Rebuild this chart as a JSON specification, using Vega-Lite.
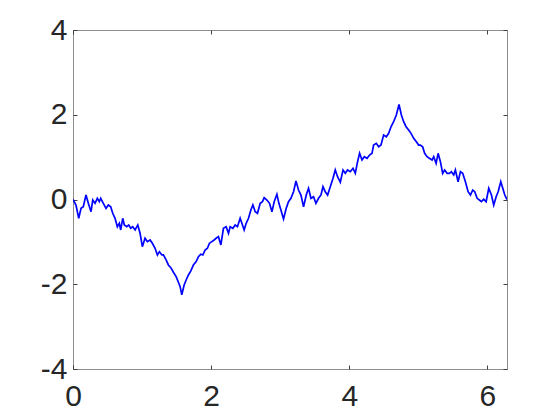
{
  "$schema": "https://vega.github.io/schema/vega-lite/v6.json",
  "autosize": "none",
  "width": 434,
  "height": 339,
  "padding": {"left": 73, "top": 30, "right": 53, "bottom": 51},
  "background": "white",
  "config": {
    "view": {"stroke": "#8c8c8c", "strokeWidth": 1},
    "axis": {
      "grid": false,
      "domain": false,
      "tickColor": "#404040",
      "tickSize": -4,
      "labelFont": "Liberation Sans",
      "labelFontSize": 30,
      "labelColor": "#262626",
      "title": null
    }
  },
  "data": {"values": [
    {"x": 0, "y": 0}, {"x": 0.043, "y": -0.13}, {"x": 0.083, "y": -0.443}, {"x": 0.116, "y": -0.208},
    {"x": 0.149, "y": -0.17}, {"x": 0.188, "y": 0.106}, {"x": 0.222, "y": -0.09}, {"x": 0.261, "y": -0.288},
    {"x": 0.286, "y": -0.012}, {"x": 0.319, "y": -0.09}, {"x": 0.352, "y": 0.028}, {"x": 0.381, "y": -0.052},
    {"x": 0.401, "y": 0.028}, {"x": 0.439, "y": -0.09}, {"x": 0.478, "y": -0.208}, {"x": 0.512, "y": -0.13},
    {"x": 0.546, "y": -0.17}, {"x": 0.575, "y": -0.325}, {"x": 0.609, "y": -0.443}, {"x": 0.642, "y": -0.642},
    {"x": 0.671, "y": -0.561}, {"x": 0.691, "y": -0.719}, {"x": 0.72, "y": -0.443}, {"x": 0.743, "y": -0.601},
    {"x": 0.778, "y": -0.642}, {"x": 0.807, "y": -0.601}, {"x": 0.836, "y": -0.679}, {"x": 0.865, "y": -0.642},
    {"x": 0.899, "y": -0.719}, {"x": 0.938, "y": -0.601}, {"x": 0.971, "y": -0.797}, {"x": 1.004, "y": -1.113},
    {"x": 1.043, "y": -0.915}, {"x": 1.077, "y": -0.995}, {"x": 1.116, "y": -0.955}, {"x": 1.149, "y": -1.033},
    {"x": 1.188, "y": -1.151}, {"x": 1.222, "y": -1.309}, {"x": 1.251, "y": -1.231}, {"x": 1.286, "y": -1.309},
    {"x": 1.309, "y": -1.309}, {"x": 1.348, "y": -1.427}, {"x": 1.381, "y": -1.545}, {"x": 1.416, "y": -1.608},
    {"x": 1.454, "y": -1.717}, {"x": 1.493, "y": -1.821}, {"x": 1.526, "y": -1.953}, {"x": 1.551, "y": -2.057},
    {"x": 1.575, "y": -2.252}, {"x": 1.609, "y": -2.017}, {"x": 1.638, "y": -1.899}, {"x": 1.671, "y": -1.781},
    {"x": 1.706, "y": -1.686}, {"x": 1.743, "y": -1.545}, {"x": 1.783, "y": -1.467}, {"x": 1.816, "y": -1.349},
    {"x": 1.851, "y": -1.292}, {"x": 1.88, "y": -1.309}, {"x": 1.913, "y": -1.191}, {"x": 1.946, "y": -1.151},
    {"x": 1.975, "y": -1.033}, {"x": 2.01, "y": -0.995}, {"x": 2.043, "y": -0.955}, {"x": 2.072, "y": -0.915},
    {"x": 2.106, "y": -0.877}, {"x": 2.141, "y": -1.073}, {"x": 2.178, "y": -0.679}, {"x": 2.217, "y": -0.642},
    {"x": 2.251, "y": -0.797}, {"x": 2.275, "y": -0.642}, {"x": 2.314, "y": -0.679}, {"x": 2.348, "y": -0.601},
    {"x": 2.381, "y": -0.642}, {"x": 2.42, "y": -0.443}, {"x": 2.445, "y": -0.561}, {"x": 2.478, "y": -0.719},
    {"x": 2.507, "y": -0.561}, {"x": 2.541, "y": -0.443}, {"x": 2.575, "y": -0.248}, {"x": 2.604, "y": -0.13},
    {"x": 2.638, "y": -0.288}, {"x": 2.671, "y": -0.325}, {"x": 2.71, "y": -0.09}, {"x": 2.743, "y": -0.052},
    {"x": 2.768, "y": 0.042}, {"x": 2.807, "y": -0.012}, {"x": 2.845, "y": -0.09}, {"x": 2.88, "y": -0.288},
    {"x": 2.913, "y": -0.052}, {"x": 2.952, "y": 0.123}, {"x": 2.981, "y": -0.09}, {"x": 3.01, "y": -0.248},
    {"x": 3.048, "y": -0.46}, {"x": 3.087, "y": -0.208}, {"x": 3.12, "y": -0.052}, {"x": 3.155, "y": 0.028},
    {"x": 3.193, "y": 0.184}, {"x": 3.228, "y": 0.436}, {"x": 3.265, "y": 0.224}, {"x": 3.3, "y": 0.106},
    {"x": 3.338, "y": -0.17}, {"x": 3.377, "y": 0.106}, {"x": 3.41, "y": 0.264}, {"x": 3.445, "y": 0.028},
    {"x": 3.483, "y": 0.066}, {"x": 3.517, "y": -0.09}, {"x": 3.555, "y": 0.028}, {"x": 3.59, "y": 0.106},
    {"x": 3.619, "y": 0.302}, {"x": 3.652, "y": 0.184}, {"x": 3.686, "y": 0.106}, {"x": 3.725, "y": 0.302},
    {"x": 3.764, "y": 0.5}, {"x": 3.797, "y": 0.696}, {"x": 3.83, "y": 0.538}, {"x": 3.87, "y": 0.406},
    {"x": 3.909, "y": 0.696}, {"x": 3.942, "y": 0.618}, {"x": 3.975, "y": 0.696}, {"x": 4.014, "y": 0.656},
    {"x": 4.054, "y": 0.736}, {"x": 4.087, "y": 0.618}, {"x": 4.12, "y": 0.892}, {"x": 4.149, "y": 1.09},
    {"x": 4.184, "y": 0.932}, {"x": 4.217, "y": 1.009}, {"x": 4.257, "y": 0.972}, {"x": 4.294, "y": 1.05},
    {"x": 4.329, "y": 1.09}, {"x": 4.352, "y": 1.285}, {"x": 4.391, "y": 1.325}, {"x": 4.425, "y": 1.245},
    {"x": 4.459, "y": 1.285}, {"x": 4.497, "y": 1.521}, {"x": 4.536, "y": 1.481}, {"x": 4.57, "y": 1.561},
    {"x": 4.604, "y": 1.717}, {"x": 4.642, "y": 1.835}, {"x": 4.681, "y": 1.993}, {"x": 4.72, "y": 2.241},
    {"x": 4.754, "y": 1.993}, {"x": 4.787, "y": 1.835}, {"x": 4.822, "y": 1.717}, {"x": 4.859, "y": 1.639},
    {"x": 4.894, "y": 1.561}, {"x": 4.932, "y": 1.443}, {"x": 4.971, "y": 1.363}, {"x": 5.004, "y": 1.285},
    {"x": 5.029, "y": 1.285}, {"x": 5.062, "y": 1.245}, {"x": 5.091, "y": 1.09}, {"x": 5.126, "y": 1.009},
    {"x": 5.159, "y": 0.972}, {"x": 5.199, "y": 0.932}, {"x": 5.222, "y": 1.009}, {"x": 5.257, "y": 0.854},
    {"x": 5.286, "y": 1.09}, {"x": 5.319, "y": 0.892}, {"x": 5.352, "y": 0.618}, {"x": 5.381, "y": 0.696},
    {"x": 5.416, "y": 0.618}, {"x": 5.449, "y": 0.618}, {"x": 5.478, "y": 0.656}, {"x": 5.512, "y": 0.578},
    {"x": 5.536, "y": 0.696}, {"x": 5.575, "y": 0.42}, {"x": 5.609, "y": 0.656}, {"x": 5.642, "y": 0.618},
    {"x": 5.681, "y": 0.42}, {"x": 5.72, "y": 0.184}, {"x": 5.754, "y": 0.106}, {"x": 5.787, "y": 0.224},
    {"x": 5.816, "y": 0.184}, {"x": 5.851, "y": 0.028}, {"x": 5.884, "y": -0.012}, {"x": 5.913, "y": -0.052},
    {"x": 5.946, "y": 0.005}, {"x": 5.981, "y": -0.052}, {"x": 6.019, "y": 0.264}, {"x": 6.058, "y": 0.106},
    {"x": 6.091, "y": -0.13}, {"x": 6.126, "y": 0.066}, {"x": 6.155, "y": 0.184}, {"x": 6.193, "y": 0.42},
    {"x": 6.222, "y": 0.264}, {"x": 6.251, "y": 0.106}, {"x": 6.2832, "y": 0}
  ]},
  "layer": [
    {
      "mark": {"type": "line", "color": "#0000ff", "strokeWidth": 1.7, "clip": true},
      "encoding": {
        "x": {"field": "x", "type": "quantitative", "scale": {"domain": [0, 6.2832], "nice": false, "zero": false},
              "axis": {"orient": "bottom", "values": [0, 2, 4, 6], "labelPadding": 16, "labelFlush": false}},
        "y": {"field": "y", "type": "quantitative", "scale": {"domain": [-4, 4], "nice": false},
              "axis": {"orient": "left", "values": [-4, -2, 0, 2, 4], "labelPadding": 10,
                       "labelExpr": "datum.value < 0 ? '-' + abs(datum.value) : '' + datum.value"}}
      }
    },
    {
      "mark": {"type": "line", "strokeOpacity": 0},
      "encoding": {
        "x": {"field": "x", "type": "quantitative", "scale": {"domain": [0, 6.2832], "nice": false, "zero": false},
              "axis": {"orient": "top", "values": [0, 2, 4, 6], "labels": false}},
        "y": {"field": "y", "type": "quantitative", "scale": {"domain": [-4, 4], "nice": false},
              "axis": {"orient": "right", "values": [-4, -2, 0, 2, 4], "labels": false}}
      }
    }
  ],
  "resolve": {"axis": {"x": "independent", "y": "independent"}}
}
